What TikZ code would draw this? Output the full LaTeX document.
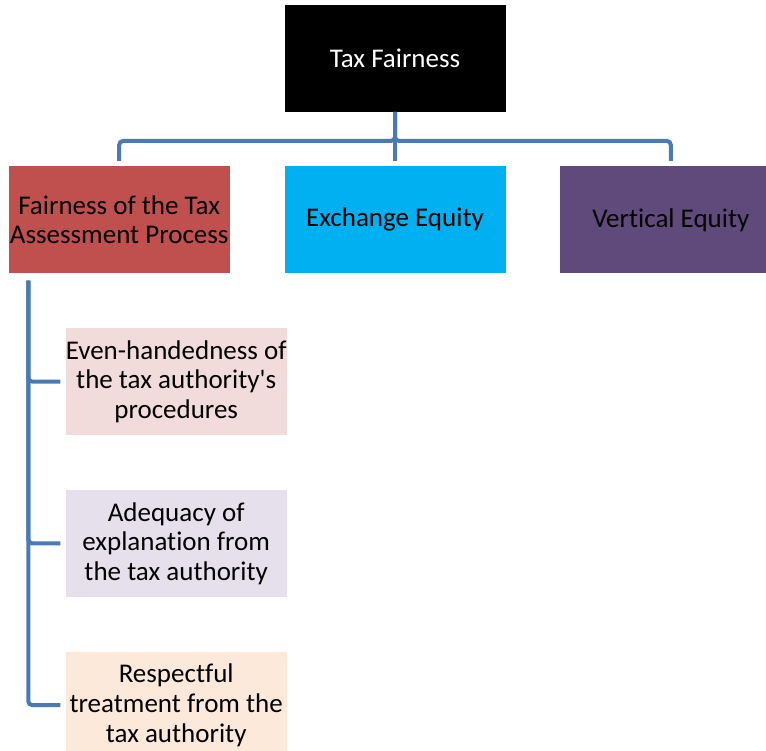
\documentclass[tikz,border=0pt]{standalone}
\usepackage{fontspec}
\setmainfont{Carlito}[Ligatures={TeXOff,NoCommon}]
\usepackage{tikz}
\usetikzlibrary{arrows.meta, positioning}

\definecolor{linkblue}{HTML}{4A7AB4}
\definecolor{fairred}{HTML}{C0504D}
\definecolor{exchcyan}{HTML}{00B0F0}
\definecolor{vertpurple}{HTML}{604A7B}
\definecolor{evenpink}{HTML}{F2DCDB}
\definecolor{adeqlilac}{HTML}{E5E0EC}
\definecolor{resppeach}{HTML}{FDE9D9}

\begin{document}
\begin{tikzpicture}[
			every node/.style={
				align=center,
				minimum width=110.5pt,
				minimum height=53.5pt,
				inner sep=0pt,
				font=\fontsize{13.5}{14.8}\selectfont
			},
			main/.style={text=black},
			sub/.style={text=black},
			link/.style={linkblue, line width=2pt, rounded corners=2pt, shorten >=2.5pt}
			]
			
			\useasboundingbox (0,0) rectangle (383pt,-375pt);
			\clip (0,0) rectangle (383pt,-375pt);
			
			% Level 1
			\node[fill=black, text=white] (root) at (197.5pt,-29pt) {Tax Fairness};
			
			% Level 2
			\node[main, fill=exchcyan, below=27pt of root] (exch) {Exchange Equity};
			\node[main, fill=fairred, left=27pt of exch] (fair) {Fairness of the Tax\\Assessment Process};
			\node[main, fill=vertpurple, right=27pt of exch] (vert) {Vertical Equity};
			
			% Level 3 - under the left box
			\node[sub, fill=evenpink, below right=27pt and 28.5pt of fair.south west] (evenh) {Even-handedness of\\the tax authority's\\procedures};
			\node[sub, fill=adeqlilac, below=27pt of evenh] (adeq) {Adequacy of\\explanation from\\the tax authority};
			\node[sub, fill=resppeach, below=27pt of adeq] (resp) {Respectful\\treatment from the\\tax authority};
			
			% Connectors
			\draw[link] (root.south) -- (exch.north);
			\draw[link] (root.south) -- ++(0,-14.5pt) -| (fair.north);
			\draw[link] (root.south) -- ++(0,-14.5pt) -| (vert.north);
			
			\draw[link, shorten <=3.5pt] ([xshift=10pt]fair.south west) |- (evenh.west);
			\draw[link, shorten <=3.5pt] ([xshift=10pt]fair.south west) |- (adeq.west);
			\draw[link, shorten <=3.5pt] ([xshift=10pt]fair.south west) |- (resp.west);
			
		\end{tikzpicture}
\end{document}
